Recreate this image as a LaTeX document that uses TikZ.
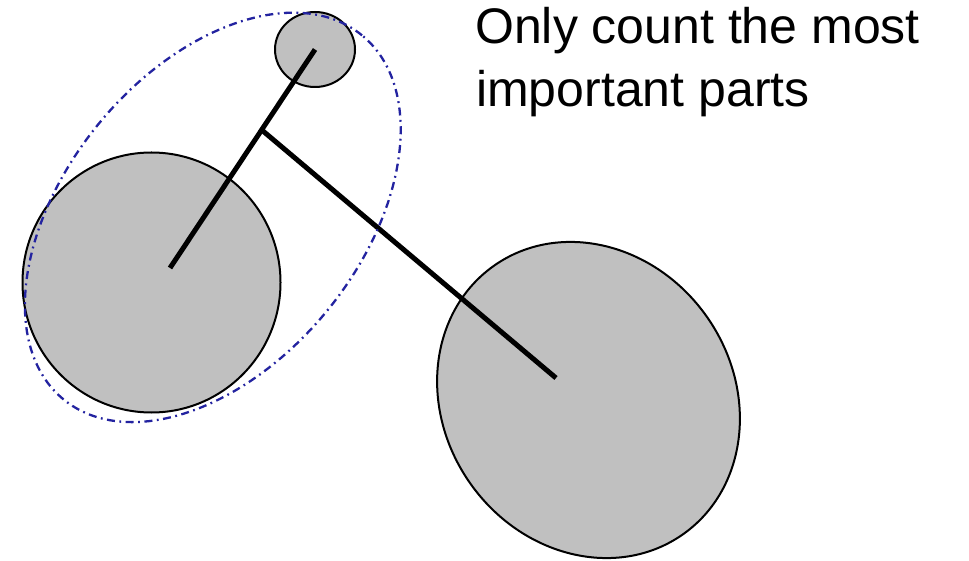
\documentclass[tikz,border=0pt]{standalone}
\usepackage{fontspec}
\newfontfamily\labelfont{Liberation Sans}
\usetikzlibrary{shapes.geometric,calc}
\definecolor{wheelgray}{RGB}{192,192,192}
\definecolor{grpblue}{RGB}{35,35,160}
\begin{document}
\begin{tikzpicture}[x=1pt,y=1pt,
  part/.style={ellipse, draw=black, line width=2pt, fill=wheelgray, inner sep=0pt, outer sep=0pt},
  frame/.style={line width=5pt, draw=black},
  group/.style={ellipse, draw=grpblue, line width=2.3pt, dash pattern=on 8pt off 4.5pt on 1.8pt off 4.5pt, inner sep=0pt},
  caption/.style={font=\labelfont\fontsize{50}{63}\selectfont, anchor=base west, inner sep=0pt}]
\useasboundingbox (0,0) rectangle (969,560);
\node[part, minimum width=258pt, minimum height=260pt] (lw) at (151.5,277.5) {};
\node[part, minimum width=289.4pt, minimum height=328.4pt, rotate=35] (rw) at (588.5,160) {};
\node[part, minimum width=80pt, minimum height=75pt] (hd) at (315,510.5) {};
\coordinate (fork) at (170,292);
\coordinate (joint) at ($(fork)!0.632!(hd.center)$);
\coordinate (rear) at (556,182);
\draw[frame] (fork) -- (hd.center);
\draw[frame] (joint) -- (rear);
\node[group, minimum width=470.8pt, minimum height=295.2pt, rotate=50.65] (grp) at (212.8,342.6) {};
\node[caption] (t1) at (475,516) {Only count the most};
\node[caption] (t2) at (476,453) {important parts};
\end{tikzpicture}
\end{document}
